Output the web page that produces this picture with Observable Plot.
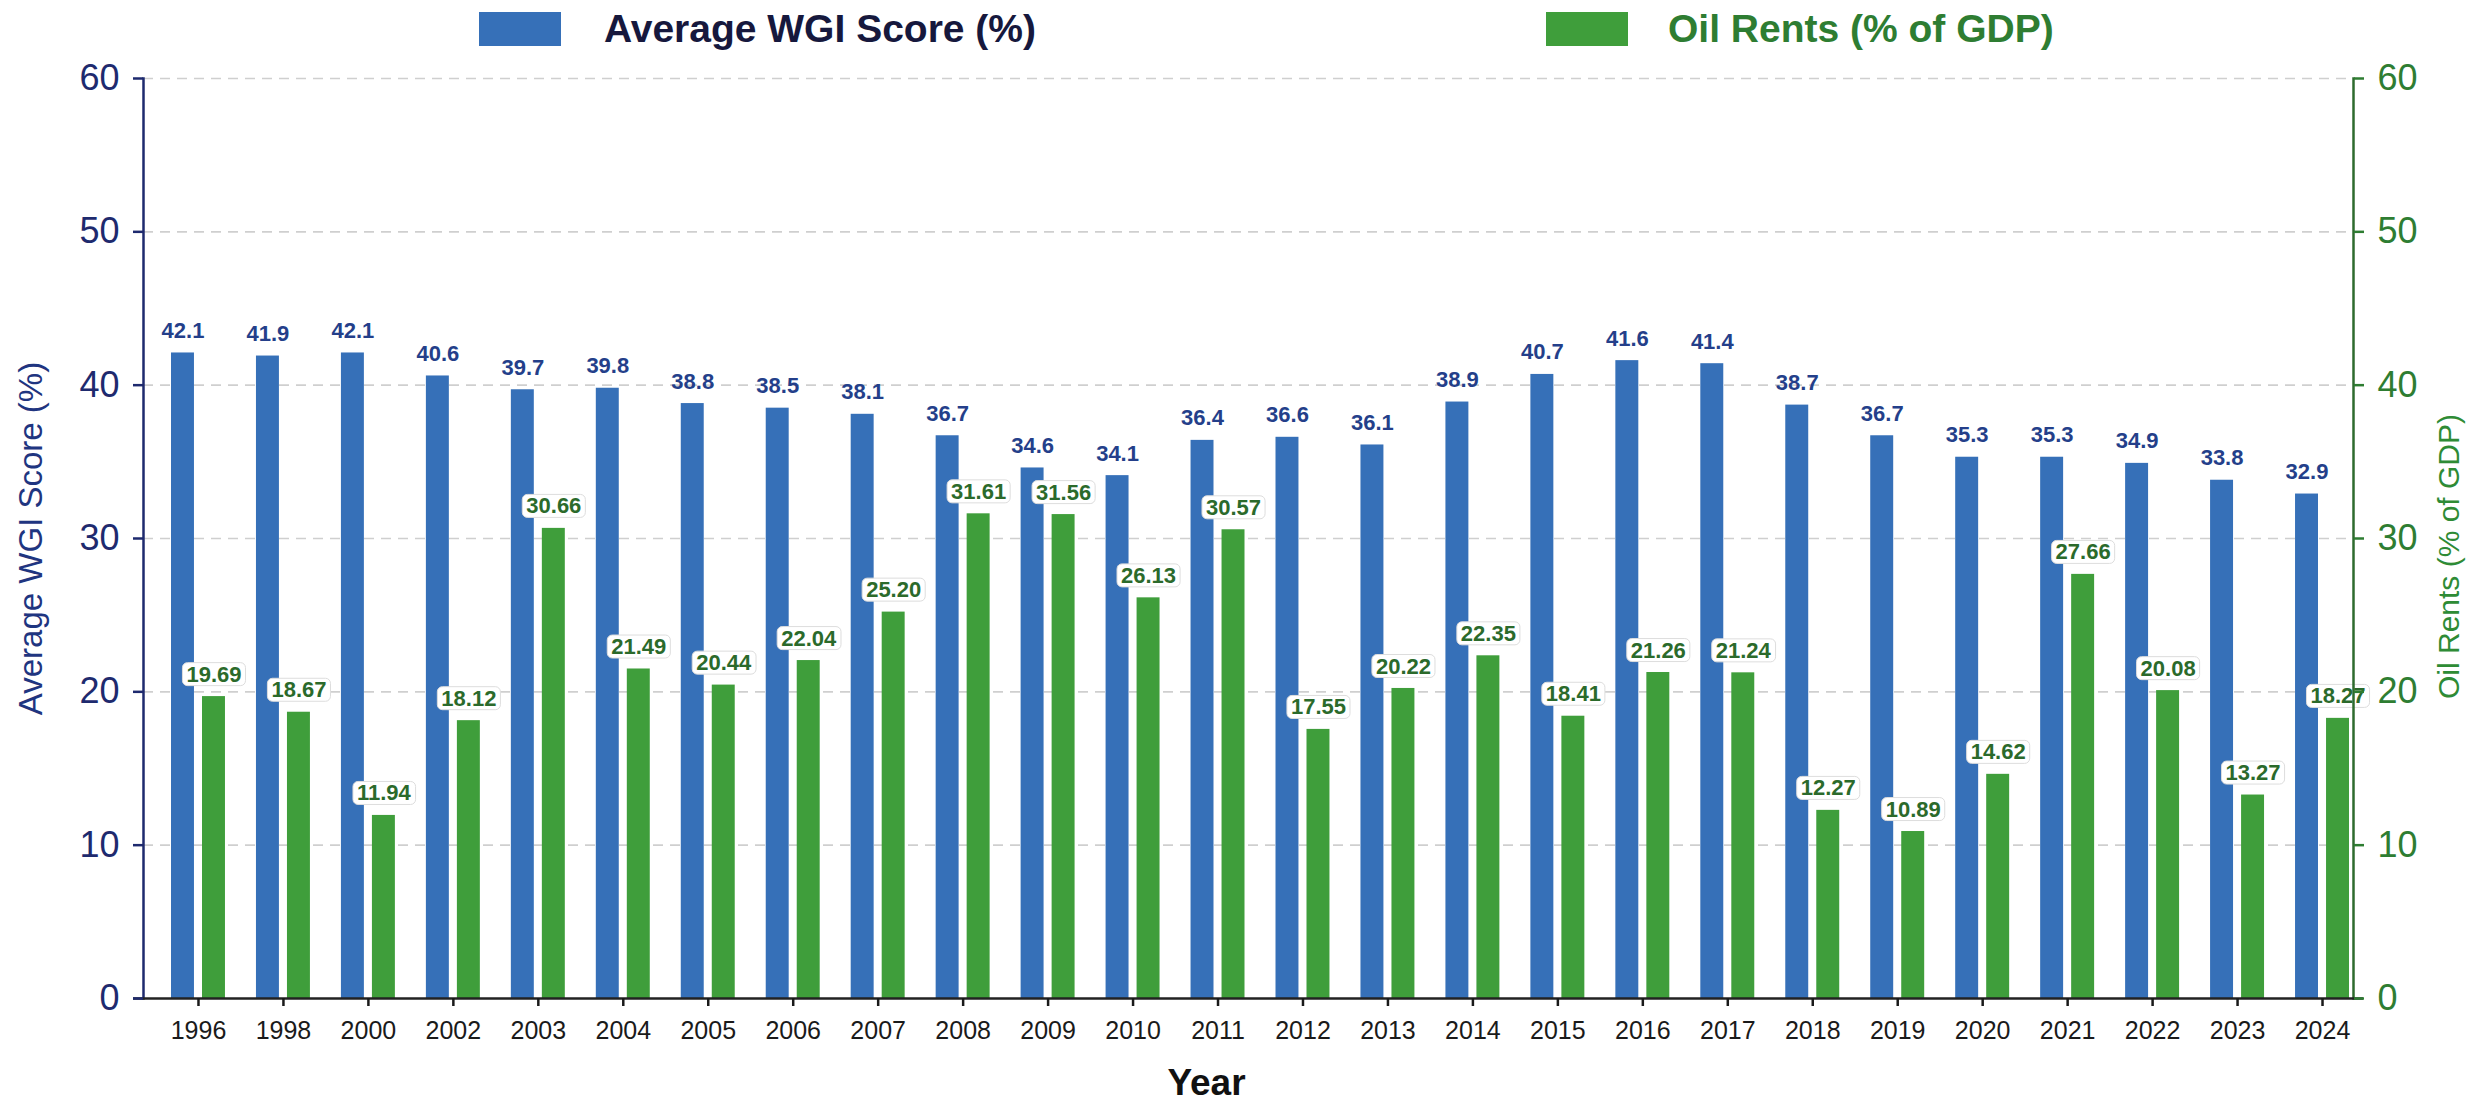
<!DOCTYPE html>
<html>
<head>
<meta charset="utf-8">
<script src="https://cdn.jsdelivr.net/npm/d3@7"></script>
<script src="https://cdn.jsdelivr.net/npm/@observablehq/plot@0.6"></script>
<style>
  body { margin: 0; background: #ffffff; font-family: "Liberation Sans", Arial, Helvetica, sans-serif; }
  #legend { position: relative; width: 2478px; height: 60px; }
  .sw { position: absolute; top: 12px; width: 82px; height: 34px; }
  .lt { position: absolute; top: 9px; font-size: 39px; line-height: 1; font-weight: bold; white-space: nowrap; }
</style>
</head>
<body>
<div id="legend">
  <div class="sw" style="left:479px;background:#3670b8;"></div>
  <div class="lt" style="left:604px;color:#16183d;">Average WGI Score (%)</div>
  <div class="sw" style="left:1546px;background:#3f9e3b;"></div>
  <div class="lt" style="left:1668px;color:#2e7d32;">Oil Rents (% of GDP)</div>
</div>
<div id="chart"></div>
<script>
const years = ["1996","1998","2000","2002","2003","2004","2005","2006","2007","2008","2009","2010","2011","2012","2013","2014","2015","2016","2017","2018","2019","2020","2021","2022","2023","2024"];
const wgiScore = [42.1,41.9,42.1,40.6,39.7,39.8,38.8,38.5,38.1,36.7,34.6,34.1,36.4,36.6,36.1,38.9,40.7,41.6,41.4,38.7,36.7,35.3,35.3,34.9,33.8,32.9];
const oilRents = [19.69,18.67,11.94,18.12,30.66,21.49,20.44,22.04,25.20,31.61,31.56,26.13,30.57,17.55,20.22,22.35,18.41,21.26,21.24,12.27,10.89,14.62,27.66,20.08,13.27,18.27];
const yTicks = [0,10,20,30,40,50,60];
const leftTitle = "Average WGI Score (%)";
const rightTitle = "Oil Rents (% of GDP)";
const xTitle = "Year";

const rows = years.map((y, i) => ({year: y, wgi: wgiScore[i], oil: oilRents[i]}));

const BLUE = "#3670b8", GREEN = "#3f9e3b";
const NAVY = "#1e2a6e", DGREEN = "#2e7d32";
const FONT = "'Liberation Sans', Arial, Helvetica, sans-serif";

const chart = Plot.plot({
  width: 2478,
  height: 1040,
  marginTop: 18,
  marginBottom: 102,
  marginLeft: 143,
  marginRight: 125,
  style: {fontFamily: FONT, background: "white", overflow: "visible"},
  x: {type: "band", domain: years, paddingInner: 0, paddingOuter: 0, insetLeft: 12.5, insetRight: -11.5, round: false, axis: null},
  y: {domain: [0, 60], axis: null},
  marks: [
    Plot.gridY(yTicks.slice(1), {stroke: "#cfcfcf", strokeOpacity: 1, strokeWidth: 1.6, strokeDasharray: "10,7"}),
    Plot.barY(rows, {x: "year", y: "wgi", fill: BLUE, insetLeft: 15.5, insetRight: 46.5}),
    Plot.barY(rows, {x: "year", y: "oil", fill: GREEN, insetLeft: 46.5, insetRight: 15.5}),
    Plot.text(rows, {x: "year", y: "wgi", text: d => d.wgi.toFixed(1), dx: -15.5, dy: -22, fontSize: 22, fontWeight: "bold", fill: "#243f8a"}),
    Plot.text(rows, {x: "year", y: "oil", text: d => d.oil.toFixed(2), dx: 15.5, dy: -22, fontSize: 22, fontWeight: "bold", fill: "#2b6a2b", ariaDescription: "oil-label"}),
    Plot.frame({anchor: "left", stroke: NAVY, strokeWidth: 2.5}),
    Plot.frame({anchor: "right", stroke: "#2e6b2e", strokeWidth: 2.5}),
    Plot.ruleY([0], {stroke: "#222222", strokeWidth: 2.5, insetLeft: -10, insetRight: -10}),
    Plot.axisY({anchor: "left", ticks: yTicks, tickSize: 10, tickPadding: 14, fontSize: 36, color: NAVY, strokeWidth: 2.5, label: null}),
    Plot.axisY({anchor: "right", ticks: yTicks, tickSize: 10, tickPadding: 14, fontSize: 36, color: DGREEN, strokeWidth: 2.5, label: null}),
    Plot.axisX({anchor: "bottom", tickSize: 8, tickPadding: 15, fontSize: 25, color: "#1a1a1a", strokeWidth: 2.5, label: null}),
    Plot.text([leftTitle], {frameAnchor: "left", textAnchor: "middle", lineAnchor: "middle", rotate: -90, dx: -112, fontSize: 33, fill: "#1f3580"}),
    Plot.text([rightTitle], {frameAnchor: "right", textAnchor: "middle", lineAnchor: "middle", rotate: -90, dx: 96, dy: 18, fontSize: 30, fill: "#2e8b35"}),
    Plot.text([xTitle], {frameAnchor: "bottom", textAnchor: "middle", lineAnchor: "middle", dx: -42, dy: 85, fontSize: 37, fontWeight: "bold", fill: "#111111"})
  ]
});

document.getElementById("chart").append(chart);

// white rounded boxes behind oil-rent labels
chart.querySelectorAll('g[aria-description="oil-label"] text').forEach(t => {
  const bb = t.getBBox();
  const r = document.createElementNS("http://www.w3.org/2000/svg", "rect");
  r.setAttribute("x", bb.x - 4);
  r.setAttribute("y", bb.y + 1);
  r.setAttribute("width", bb.width + 8);
  r.setAttribute("height", bb.height - 2);
  r.setAttribute("rx", 5);
  r.setAttribute("fill", "#ffffff");
  r.setAttribute("stroke", "#dddddd");
  r.setAttribute("stroke-width", 1);
  const tr = t.getAttribute("transform");
  if (tr) r.setAttribute("transform", tr);
  t.parentNode.insertBefore(r, t);
});
</script>
</body>
</html>
